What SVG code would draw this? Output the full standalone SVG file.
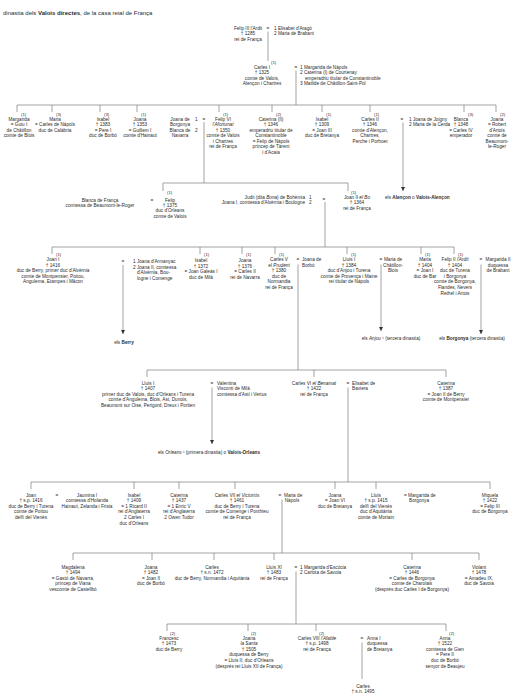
<svg xmlns="http://www.w3.org/2000/svg" width="515" height="700" viewBox="0 0 515 700">
<defs>
<style>
.t{font-family:"Liberation Sans","Noto Sans",Arial,sans-serif;font-size:4.7px;fill:#2b2b2b}
.c{text-anchor:middle}
.r{text-anchor:end}
.i{font-style:italic}
.b{font-weight:bold}
.n{font-size:4.2px}
.ln{stroke:#7d7d7d;stroke-width:0.7;fill:none}
.ar{stroke:#7d7d7d;stroke-width:0.7;fill:none;marker-end:url(#ah)}
</style>
<marker id="ah" viewBox="0 0 4 4" refX="4" refY="2" markerWidth="4" markerHeight="4" markerUnits="userSpaceOnUse" orient="auto"><path d="M0,0 L4,2 L0,4 z" fill="#333"/></marker>
</defs>
<rect width="515" height="700" fill="#fff"/>
<text class="t" x="3" y="14.8" style="font-size:6px">dinastia dels <tspan class="b">Valois directes</tspan>, de la casa reial de França</text>

<g id="connectors">
<path class="ln" d="M268,31.5V61 M296,70.5V105 M17,105H496 M17,105V112 M52,105V112 M100,105V112 M137,105V112 M219,105V112 M272,105V112 M322,105V112 M370,105V112 M464,105V112 M496,105V112"/>
<path class="ln" d="M204,122V183 M163,183H348 M163,183V191 M348,183V191"/>
<path class="ar" d="M403,122.5V191"/>
<path class="ln" d="M325,202V247 M52,247H454 M52,247V254 M200,247V254 M242,247V254 M275,247V254 M347,247V254 M421,247V254 M454,247V254"/>
<path class="ar" d="M123,265V334"/>
<path class="ln" d="M298,264.5V370"/>
<path class="ar" d="M381,264.5V331"/>
<path class="ar" d="M481,264.5V334"/>
<path class="ln" d="M147,370H446 M147,370V377 M314,370V377 M446,370V377"/>
<path class="ar" d="M212,387.5V444"/>
<path class="ln" d="M348,387.5V482 M31,482H490 M31,482V489 M134,482V489 M179,482V489 M235,482V489 M335,482V489 M376,482V489 M490,482V489"/>
<path class="ln" d="M282,499.5V553 M73,553H479 M73,553V560 M152,553V560 M214,553V560 M274,553V560 M412,553V560 M479,553V560"/>
<path class="ln" d="M296,571.5V624 M167,624H446 M167,624V631 M248,624V631 M316,624V631 M446,624V631"/>
<path class="ln" d="M362,642.5V679"/>
</g>

<g id="felip3"><text class="t c" x="248" y="29.5"><tspan x="248">Felip III l'Ardit</tspan><tspan x="248" dy="5.6">† 1285</tspan><tspan x="248" dy="5.6">rei de França</tspan></text></g>
<g id="felip3-m"><text class="t" x="266.5" y="29.5">=</text><text class="t" x="274" y="29.5"><tspan x="274">1  Elisabet d'Aragó</tspan><tspan x="274" dy="5.6">2  Maria de Brabant</tspan></text></g>

<g id="carles1"><text class="t n" x="271" y="63.5">(1)</text><text class="t c" x="262" y="68.5"><tspan x="262">Carles I</tspan><tspan x="262" dy="5.6">† 1325</tspan><tspan x="262" dy="5.6">comte de Valois,</tspan><tspan x="262" dy="5.6">Alençon i Chartres</tspan></text></g>
<g id="carles1-m"><text class="t" x="294.5" y="68.5">=</text><text class="t" x="300" y="68.5"><tspan x="300">1 Margarida de Nàpols</tspan><tspan x="300" dy="5.6">2 Caterina (I) de Courtenay</tspan><tspan x="305" dy="5.6">emperadriu titular de Constantinoble</tspan><tspan x="300" dy="5.6">3 Matilde de Châtillon-Saint-Pol</tspan></text></g>

<g id="margarida"><text class="t n" x="21" y="115.5">(1)</text><text class="t c" x="19" y="120.6"><tspan x="19">Margarida</tspan><tspan x="19" dy="5.5">= Guiu I</tspan><tspan x="19" dy="5.5">de Châtillon</tspan><tspan x="19" dy="5.5">comte de Blois</tspan></text></g>
<g id="maria"><text class="t n" x="56" y="115.5">(3)</text><text class="t c" x="55" y="120.6"><tspan x="55">Maria</tspan><tspan x="55" dy="5.5">= Carles de Nàpols</tspan><tspan x="55" dy="5.5">duc de Calàbria</tspan></text></g>
<g id="isabel1"><text class="t n" x="104" y="115.5">(3)</text><text class="t c" x="103" y="120.6"><tspan x="103">Isabel</tspan><tspan x="103" dy="5.5">† 1383</tspan><tspan x="103" dy="5.5">= Pere I</tspan><tspan x="103" dy="5.5">duc de Borbó</tspan></text></g>
<g id="joana1"><text class="t n" x="141" y="115.5">(1)</text><text class="t c" x="140" y="120.6"><tspan x="140">Joana</tspan><tspan x="140" dy="5.5">† 1353</tspan><tspan x="140" dy="5.5">= Guillem I</tspan><tspan x="140" dy="5.5">comte d'Hainaut</tspan></text></g>
<g id="felip6-m"><text class="t c" x="180" y="120.6"><tspan x="180">Joana de</tspan><tspan x="180" dy="5.5">Borgonya</tspan><tspan x="180" dy="5.5">Blanca de</tspan><tspan x="180" dy="5.5">Navarra</tspan></text><text class="t" x="195" y="120.6">1</text><text class="t" x="195" y="131.6">2</text><text class="t" x="202.5" y="120.6">=</text></g>
<g id="felip6"><text class="t n" x="223" y="115.5">(1)</text><text class="t c" x="223" y="120.6"><tspan x="223">Felip VI</tspan><tspan x="223" dy="5.5" class="i">l'Afortunat</tspan><tspan x="223" dy="5.5">† 1350</tspan><tspan x="223" dy="5.5">comte de Valois</tspan><tspan x="223" dy="5.5">i Chartres</tspan><tspan x="223" dy="5.5">rei de França</tspan></text></g>
<g id="caterina2"><text class="t n" x="276" y="115.5">(2)</text><text class="t c" x="271" y="120.6"><tspan x="271">Caterina (II)</tspan><tspan x="271" dy="5.5">† 1346</tspan><tspan x="271" dy="5.5">emperadriu titular de</tspan><tspan x="271" dy="5.5">Constantinoble</tspan><tspan x="271" dy="5.5">= Felip de Nàpols</tspan><tspan x="271" dy="5.5">príncep de Tàrent</tspan><tspan x="271" dy="5.5">i d'Acaia</tspan></text></g>
<g id="isabel2"><text class="t n" x="326" y="115.5">(1)</text><text class="t c" x="322" y="120.6"><tspan x="322">Isabel</tspan><tspan x="322" dy="5.5">† 1309</tspan><tspan x="322" dy="5.5">= Joan III</tspan><tspan x="322" dy="5.5">duc de Bretanya</tspan></text></g>
<g id="carles2"><text class="t n" x="374" y="115.5">(1)</text><text class="t c" x="370" y="120.6"><tspan x="370">Carles II</tspan><tspan x="370" dy="5.5">† 1346</tspan><tspan x="370" dy="5.5">comte d'Alençon,</tspan><tspan x="370" dy="5.5">Chartres,</tspan><tspan x="370" dy="5.5">Perche i Porhoet</tspan></text></g>
<g id="carles2-m"><text class="t" x="400.5" y="120.6">=</text><text class="t" x="409" y="120.6"><tspan x="409">1  Joana de Joigny</tspan><tspan x="409" dy="5.5">2  Maria de la Cerda</tspan></text></g>
<g id="blanca1"><text class="t n" x="468" y="115.5">(3)</text><text class="t c" x="461" y="120.6"><tspan x="461">Blanca</tspan><tspan x="461" dy="5.5">† 1348</tspan><tspan x="461" dy="5.5">= Carles IV</tspan><tspan x="461" dy="5.5">emperador</tspan></text></g>
<g id="joana2"><text class="t n" x="500" y="115.5">(2)</text><text class="t c" x="497" y="120.6"><tspan x="497">Joana</tspan><tspan x="497" dy="5.5">= Robert</tspan><tspan x="497" dy="5.5">d'Artois</tspan><tspan x="497" dy="5.5">comte de</tspan><tspan x="497" dy="5.5">Beaumont-</tspan><tspan x="497" dy="5.5">le-Roger</tspan></text></g>

<g id="alencon"><text class="t" x="385" y="199">els <tspan class="b">Alençon</tspan> o <tspan class="b">Valois-Alençon</tspan></text></g>

<g id="blanca-f"><text class="t c" x="100" y="201.6"><tspan x="100">Blanca de França</tspan><tspan x="100" dy="5.6">comtessa de Beaumont-le-Roger</tspan></text><text class="t" x="150.5" y="201.6">=</text></g>
<g id="felip-o"><text class="t n" x="167" y="193.6">(1)</text><text class="t c" x="170" y="201.6"><tspan x="170">Felip</tspan><tspan x="170" dy="5.4">† 1375</tspan><tspan x="170" dy="5.4">duc d'Orleans</tspan><tspan x="170" dy="5.4">comte de Valois</tspan></text></g>
<g id="judit"><text class="t r" x="305" y="198.5"><tspan x="305">Judit (dita <tspan class="i">Bona</tspan>) de Bohèmia</tspan><tspan x="305" dy="5.5">Joana I, comtessa d'Alvèrnia i Boulogne</tspan></text><text class="t" x="309" y="198.5">1</text><text class="t" x="309" y="204">2</text><text class="t" x="322.5" y="201">=</text></g>
<g id="joan2"><text class="t n" x="351" y="193.6">(1)</text><text class="t c" x="357" y="198.5"><tspan x="357">Joan II <tspan class="i">el Bo</tspan></tspan><tspan x="357" dy="5.5">† 1364</tspan><tspan x="357" dy="5.5">rei de França</tspan></text></g>

<g id="joan1"><text class="t n" x="56" y="256">(1)</text><text class="t c" x="53" y="261"><tspan x="53">Joan I</tspan><tspan x="53" dy="5.6">† 1416</tspan><tspan x="53" dy="5.6">duc de Berry, primer duc d'Alvèrnia</tspan><tspan x="53" dy="5.6">comte de Montpensier, Poitou,</tspan><tspan x="53" dy="5.6">Angulema, Etampes i Mâcon</tspan></text></g>
<g id="joan1-m"><text class="t" x="121.5" y="263">=</text><text class="t" x="133" y="263"><tspan x="133">1 Joana d'Armanyac</tspan><tspan x="133" dy="5.5">2 Joana II, comtessa</tspan><tspan x="137" dy="5.5">d'Alvèrnia, Bou-</tspan><tspan x="137" dy="5.5">logne i Comenge</tspan></text></g>
<g id="berry"><text class="t c" x="124" y="343.6">els <tspan class="b">Berry</tspan></text></g>
<g id="isabel3"><text class="t n" x="204" y="256">(1)</text><text class="t c" x="201" y="262"><tspan x="201">Isabel</tspan><tspan x="201" dy="5.6">† 1372</tspan><tspan x="201" dy="5.6">= Joan Galeàs I</tspan><tspan x="201" dy="5.6">duc de Milà</tspan></text></g>
<g id="joana3"><text class="t n" x="246" y="256">(1)</text><text class="t c" x="245" y="262"><tspan x="245">Joana</tspan><tspan x="245" dy="5.6">† 1376</tspan><tspan x="245" dy="5.6">= Carles II</tspan><tspan x="245" dy="5.6">rei de Navarra</tspan></text></g>
<g id="carles5"><text class="t n" x="279" y="256">(1)</text><text class="t c" x="279" y="261"><tspan x="279">Carles V</tspan><tspan x="279" dy="5.6">el <tspan class="i">Prudent</tspan></tspan><tspan x="279" dy="5.6">† 1380</tspan><tspan x="279" dy="5.6">duc de</tspan><tspan x="279" dy="5.6">Normandia</tspan><tspan x="279" dy="5.6">rei de França</tspan></text></g>
<g id="carles5-m"><text class="t" x="296.5" y="261">=</text><text class="t" x="302" y="261"><tspan x="302">Joana de</tspan><tspan x="302" dy="5.6">Borbó</tspan></text></g>
<g id="lluis1a"><text class="t n" x="351" y="256">(1)</text><text class="t c" x="349" y="261"><tspan x="349">Lluís I</tspan><tspan x="349" dy="5.6">† 1384</tspan><tspan x="349" dy="5.6">duc d'Anjou i Turena</tspan><tspan x="349" dy="5.6">comte de Provença i Maine</tspan><tspan x="349" dy="5.6">rei titular de Nàpols</tspan></text></g>
<g id="lluis1a-m"><text class="t" x="379.5" y="261">=</text><text class="t c" x="393" y="261"><tspan x="393">Maria de</tspan><tspan x="393" dy="5.6">Châtillon-</tspan><tspan x="393" dy="5.6">Blois</tspan></text></g>
<g id="anjou"><text class="t c" x="391" y="339.6">els <tspan class="i">Anjou</tspan> ¹ (tercera dinastia)</text></g>
<g id="maria2"><text class="t n" x="425" y="256">(1)</text><text class="t c" x="425" y="261"><tspan x="425">Maria</tspan><tspan x="425" dy="5.6">† 1404</tspan><tspan x="425" dy="5.6">= Joan I</tspan><tspan x="425" dy="5.6">duc de Bar</tspan></text></g>
<g id="felip2"><text class="t n" x="458" y="256">(1)</text><text class="t c" x="455" y="261"><tspan x="455">Felip II <tspan class="i">l'Ardit</tspan></tspan><tspan x="455" dy="5.6">† 1404</tspan><tspan x="455" dy="5.6">duc de Turena</tspan><tspan x="455" dy="5.6">i Borgonya</tspan><tspan x="455" dy="5.6">comte de Borgonya,</tspan><tspan x="455" dy="5.6">Flandes, Nevers</tspan><tspan x="455" dy="5.6">Rethel i Artois</tspan></text></g>
<g id="felip2-m"><text class="t" x="479.5" y="261">=</text><text class="t c" x="498" y="261"><tspan x="498">Margarida II</tspan><tspan x="498" dy="5.6">duquessa</tspan><tspan x="498" dy="5.6">de Brabant</tspan></text></g>
<g id="borgonya"><text class="t c" x="472" y="339.6">els <tspan class="b">Borgonya</tspan> (tercera dinastia)</text></g>

<g id="lluis1o"><text class="t c" x="148" y="384.6"><tspan x="148">Lluís I</tspan><tspan x="148" dy="5.6">† 1407</tspan><tspan x="148" dy="5.6">primer duc de Valois, duc d'Orleans i Turena</tspan><tspan x="148" dy="5.6">comte d'Angulema, Blois, Ast, Dunois,</tspan><tspan x="148" dy="5.6">Beaumont sur Oise, Perigord, Dreux i Portien</tspan></text></g>
<g id="lluis1o-m"><text class="t" x="210.5" y="384.6">=</text><text class="t" x="217" y="384.6"><tspan x="217">Valentina</tspan><tspan x="217" dy="5.6">Visconti de Milà</tspan><tspan x="217" dy="5.6">comtessa d'Asti i Vertus</tspan></text></g>
<g id="orleans"><text class="t c" x="209" y="453.6">els <tspan class="i">Orleans</tspan> ¹ (primera dinastia) o <tspan class="b">Valois-Orleans</tspan></text></g>
<g id="carles6"><text class="t c" x="314" y="384.6"><tspan x="314">Carles VI <tspan class="i">el Benamat</tspan></tspan><tspan x="314" dy="5.6">† 1422</tspan><tspan x="314" dy="5.6">rei de França</tspan></text></g>
<g id="carles6-m"><text class="t" x="346.5" y="384.6">=</text><text class="t" x="352" y="384.6">Elisabet de</text><text class="t c" x="360" y="390.2">Baviera</text></g>
<g id="caterina3"><text class="t c" x="446" y="384.6"><tspan x="446">Caterina</tspan><tspan x="446" dy="5.6">† 1387</tspan><tspan x="446" dy="5.6">= Joan II de Berry</tspan><tspan x="446" dy="5.6">comte de Montpensier</tspan></text></g>

<g id="joan-b"><text class="t c" x="31" y="496.6"><tspan x="31">Joan</tspan><tspan x="31" dy="5.6">† s.p. 1416</tspan><tspan x="31" dy="5.6">duc de Berry i Turena</tspan><tspan x="31" dy="5.6">comte de Poitou</tspan><tspan x="31" dy="5.6">delfí del Vienès</tspan></text><text class="t" x="55.5" y="496.6">=</text></g>
<g id="jaumina"><text class="t c" x="87" y="496.6"><tspan x="87">Jaumina I</tspan><tspan x="87" dy="5.6">comtessa d'Holanda</tspan><tspan x="87" dy="5.6">Hainaut, Zelanda i Frisia</tspan></text></g>
<g id="isabel4"><text class="t c" x="134" y="496.6"><tspan x="134">Isabel</tspan><tspan x="134" dy="5.6">† 1409</tspan><tspan x="134" dy="5.6">= 1 Ricard II</tspan><tspan x="134" dy="5.6">rei d'Anglaterra</tspan><tspan x="134" dy="5.6">2 Carles I</tspan><tspan x="134" dy="5.6">duc d'Orleans</tspan></text></g>
<g id="caterina4"><text class="t c" x="179" y="496.6"><tspan x="179">Caterina</tspan><tspan x="179" dy="5.6">† 1437</tspan><tspan x="179" dy="5.6">= 1 Enric V</tspan><tspan x="179" dy="5.6">rei d'Anglaterra</tspan><tspan x="179" dy="5.6">2 Owen Tudor</tspan></text></g>
<g id="carles7"><text class="t c" x="237" y="496.6"><tspan x="237">Carles VII <tspan class="i">el Victoriós</tspan></tspan><tspan x="237" dy="5.6">† 1461</tspan><tspan x="237" dy="5.6">duc de Berry i Turena</tspan><tspan x="237" dy="5.6">comte de Comenge i Ponthieu</tspan><tspan x="237" dy="5.6">rei de França</tspan></text></g>
<g id="carles7-m"><text class="t" x="278.5" y="496.6">=</text><text class="t" x="284" y="496.6">Maria de</text><text class="t c" x="292" y="502.2">Nàpols</text></g>
<g id="joana5"><text class="t c" x="335" y="496.6"><tspan x="335">Joana</tspan><tspan x="335" dy="5.6">= Joan VI</tspan><tspan x="335" dy="5.6">duc de Bretanya</tspan></text></g>
<g id="lluis-d"><text class="t c" x="376" y="496.6"><tspan x="376">Lluís</tspan><tspan x="376" dy="5.6">† s.p. 1415</tspan><tspan x="376" dy="5.6">delfí del Vienès</tspan><tspan x="376" dy="5.6">duc d'Aquitània</tspan><tspan x="376" dy="5.6">comte de Mortain</tspan></text></g>
<g id="lluis-d-m"><text class="t" x="404" y="496.6"><tspan x="404">= Margarida de</tspan><tspan x="409" dy="5.6">Borgonya</tspan></text></g>
<g id="miquela"><text class="t c" x="490" y="496.6"><tspan x="490">Miquela</tspan><tspan x="490" dy="5.6">† 1422</tspan><tspan x="490" dy="5.6">= Felip III</tspan><tspan x="490" dy="5.6">duc de Borgonya</tspan></text></g>

<g id="magdalena"><text class="t c" x="73" y="568.6"><tspan x="73">Magdalena</tspan><tspan x="73" dy="5.6">† 1494</tspan><tspan x="73" dy="5.6">= Gastó de Navarra,</tspan><tspan x="73" dy="5.6">príncep de Viana</tspan><tspan x="73" dy="5.6">vescomte de Castellbò</tspan></text></g>
<g id="joana6"><text class="t c" x="151" y="568.6"><tspan x="151">Joana</tspan><tspan x="151" dy="5.6">† 1482</tspan><tspan x="151" dy="5.6">= Joan II</tspan><tspan x="151" dy="5.6">duc de Borbó</tspan></text></g>
<g id="carles-b"><text class="t c" x="212" y="568.6"><tspan x="212">Carles</tspan><tspan x="212" dy="5.6">† s.n. 1472</tspan><tspan x="212" dy="5.6">duc de Berry, Normandia i Aquitània</tspan></text></g>
<g id="lluis11"><text class="t c" x="274" y="568.6"><tspan x="274">Lluís XI</tspan><tspan x="274" dy="5.6">† 1483</tspan><tspan x="274" dy="5.6">rei de França</tspan></text></g>
<g id="lluis11-m"><text class="t" x="294.5" y="568.6">=</text><text class="t" x="300" y="568.6"><tspan x="300">1  Margarida d'Escòcia</tspan><tspan x="300" dy="5.6">2  Carlota de Savoia</tspan></text></g>
<g id="caterina5"><text class="t c" x="412" y="568.6"><tspan x="412">Caterina</tspan><tspan x="412" dy="5.6">† 1446</tspan><tspan x="412" dy="5.6">= Carles de Borgonya</tspan><tspan x="412" dy="5.6">comte de Charolais</tspan><tspan x="412" dy="5.6">(després duc Carles I de Borgonya)</tspan></text></g>
<g id="violant"><text class="t c" x="479" y="568.6"><tspan x="479">Violant</tspan><tspan x="479" dy="5.6">† 1478</tspan><tspan x="479" dy="5.6">= Amadeu IX,</tspan><tspan x="479" dy="5.6">duc de Savoia</tspan></text></g>

<g id="francesc"><text class="t n" x="170" y="634.6">(2)</text><text class="t c" x="169" y="639.6"><tspan x="169">Francesc</tspan><tspan x="169" dy="5.6">† 1473</tspan><tspan x="169" dy="5.6">duc de Berry</tspan></text></g>
<g id="joana7"><text class="t n" x="251" y="634.6">(2)</text><text class="t c" x="249" y="639.6"><tspan x="249">Joana</tspan><tspan x="249" dy="5.6" class="i">la Santa</tspan><tspan x="249" dy="5.6">† 1505</tspan><tspan x="249" dy="5.6">duquessa de Berry</tspan><tspan x="249" dy="5.6">= Lluís II, duc d'Orleans</tspan><tspan x="249" dy="5.6">(després rei Lluís XII de França)</tspan></text></g>
<g id="carles8"><text class="t n" x="319" y="634.6">(2)</text><text class="t c" x="317" y="639.6"><tspan x="317">Carles VIII <tspan class="i">l'Afable</tspan></tspan><tspan x="317" dy="5.6">† s.p. 1498</tspan><tspan x="317" dy="5.6">rei de França</tspan></text></g>
<g id="carles8-m"><text class="t" x="360.5" y="639.6">=</text><text class="t" x="367" y="639.6"><tspan x="367">Anna I</tspan><tspan x="367" dy="5.6">duquessa</tspan><tspan x="367" dy="5.6">de Bretanya</tspan></text></g>
<g id="carles-n"><text class="t c" x="363" y="687.6"><tspan x="363">Carles</tspan><tspan x="363" dy="5.6">† s.n. 1495</tspan></text></g>
<g id="anna"><text class="t n" x="449" y="634.6">(2)</text><text class="t c" x="445" y="639.6"><tspan x="445">Anna</tspan><tspan x="445" dy="5.6">† 1522</tspan><tspan x="445" dy="5.6">comtessa de Gien</tspan><tspan x="445" dy="5.6">= Pere II</tspan><tspan x="445" dy="5.6">duc de Borbó</tspan><tspan x="445" dy="5.6">senyor de Beaujeu</tspan></text></g>
</svg>
